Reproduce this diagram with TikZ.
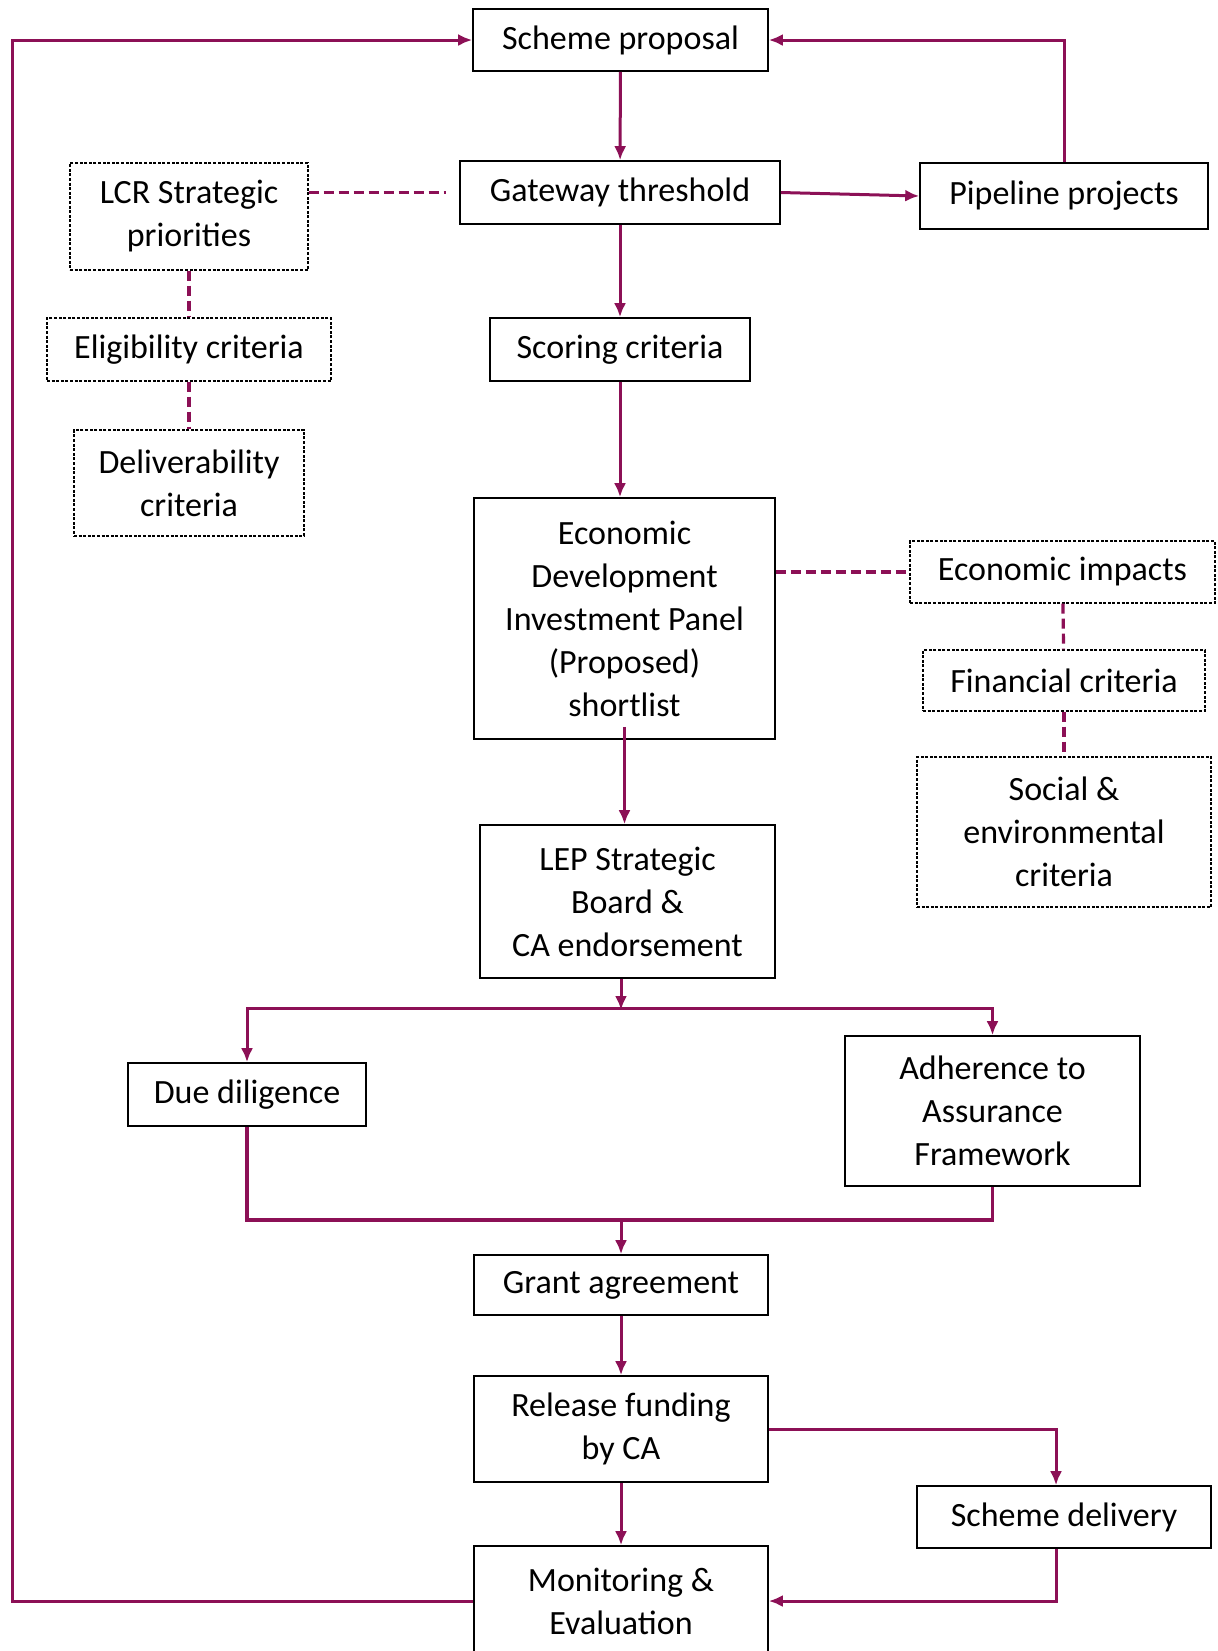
\documentclass[tikz,border=0pt]{standalone}
\usepackage{fontspec}
\setmainfont{Carlito}
\usetikzlibrary{arrows.meta}
\definecolor{plum}{RGB}{140,16,86}
\tikzset{
  box/.style={draw, line width=0.8pt, align=center, inner sep=2pt,
    font=\fontsize{17}{21.5}\selectfont},
  dotbox/.style={box, line width=0.6pt, dash pattern=on 1.5pt off 0.8pt},
  flow/.style={draw=plum, line width=1.5pt, -{Latex[length=7pt,width=6pt]}},
  link/.style={draw=plum, line width=1.9pt},
  dashlink/.style={draw=plum, line width=1.6pt, dash pattern=on 5pt off 2.5pt}
}
\begin{document}
\begin{tikzpicture}[x=0.5pt, y=-0.5pt]
  \useasboundingbox (0,0) rectangle (1217,1651);
  \draw
    (620.5,40) node[box, minimum width=147.5pt, minimum height=31pt] (prop){Scheme proposal}
    (620,192.5) node[box, minimum width=160pt, minimum height=31.5pt] (gate){Gateway threshold}
    (1064,196) node[box, minimum width=144pt, minimum height=33pt] (pipe){Pipeline projects}
    (189,216.5) node[dotbox, minimum width=119pt, minimum height=53.5pt] (lcr){LCR Strategic\\priorities}
    (189,349.5) node[dotbox, minimum width=142pt, minimum height=31.5pt] (elig){Eligibility criteria}
    (189,483) node[dotbox, minimum width=115pt, minimum height=53pt] (deliv){Deliverability\\criteria}
    (620,349.5) node[box, minimum width=130pt, minimum height=31.5pt] (score){Scoring criteria}
    (624.5,618.5) node[box, minimum width=150.5pt, minimum height=120.5pt] (edip){Economic\\Development\\Investment Panel\\(Proposed)\\shortlist}
    (1062.5,572) node[dotbox, minimum width=152.5pt, minimum height=31pt] (ecoimp){Economic impacts}
    (1064,680.5) node[dotbox, minimum width=141pt, minimum height=30.5pt] (fin){Financial criteria}
    (1064,832) node[dotbox, minimum width=147pt, minimum height=75pt] (social){Social \&\\environmental\\criteria}
    (627.5,901.5) node[box, minimum width=147.5pt, minimum height=76.5pt] (lep){LEP Strategic\\Board \&\\CA endorsement}
    (247,1094.5) node[box, minimum width=119pt, minimum height=31.5pt] (due){Due diligence}
    (992.5,1111) node[box, minimum width=147.5pt, minimum height=75pt] (adh){Adherence to\\Assurance\\Framework}
    (621,1285) node[box, minimum width=147pt, minimum height=30pt] (grant){Grant agreement}
    (621,1429) node[box, minimum width=147pt, minimum height=53pt] (release){Release funding\\by CA}
    (1064,1517) node[box, minimum width=147pt, minimum height=31pt] (sdel){Scheme delivery}
    (621,1601) node[box, minimum width=147pt, minimum height=55pt] (monit){Monitoring \&\\Evaluation};
  \coordinate (split) at (621,1008);
  \coordinate (merge) at (621,1220);
  \coordinate (back) at (12,1600);
  \coordinate (drop) at (1056,1517);
  \begin{scope}[-]
    % main line
    \draw[flow] (prop) to (gate);
    \draw[flow] (gate.east) to (pipe.west);
    \draw[flow] (pipe.north) |- (prop.east);
    \draw[flow] (gate) to (score);
    \draw[flow] (score.south) to (score.south |- edip.north);
    \draw[flow] ([yshift=6.5pt]edip.south) to (lep.north -| edip.south);
    \draw[flow] (lep.south -| split) to ([yshift=-1pt]split);
    \draw[flow] (split) -| (due.north);
    \draw[flow] (split) -| (adh.north);
    \draw[link] (due.south) |- (merge) -| (adh.south);
    \draw[flow] (merge) to (grant.north);
    \draw[flow] (grant) to (release);
    \draw[flow] (release) to (monit);
    \draw[flow] (release.east) -| (drop |- sdel.north);
    \draw[flow] (drop |- sdel.south) |- (monit.east);
    \draw[flow] (monit.west) -- (monit.west -| back) |- (prop.west);
    % criteria
    \draw[dashlink, shorten >=6.5pt] (gate.west -| lcr.east) to (gate.west);
    \draw[dashlink] (lcr) to (elig);
    \draw[dashlink] (elig) to (deliv);
    \draw[dashlink] (ecoimp.west -| edip.east) to (ecoimp.west);
    \draw[dashlink] (ecoimp) to (fin);
    \draw[dashlink] (fin) to (social);
  \end{scope}
\end{tikzpicture}
\end{document}
